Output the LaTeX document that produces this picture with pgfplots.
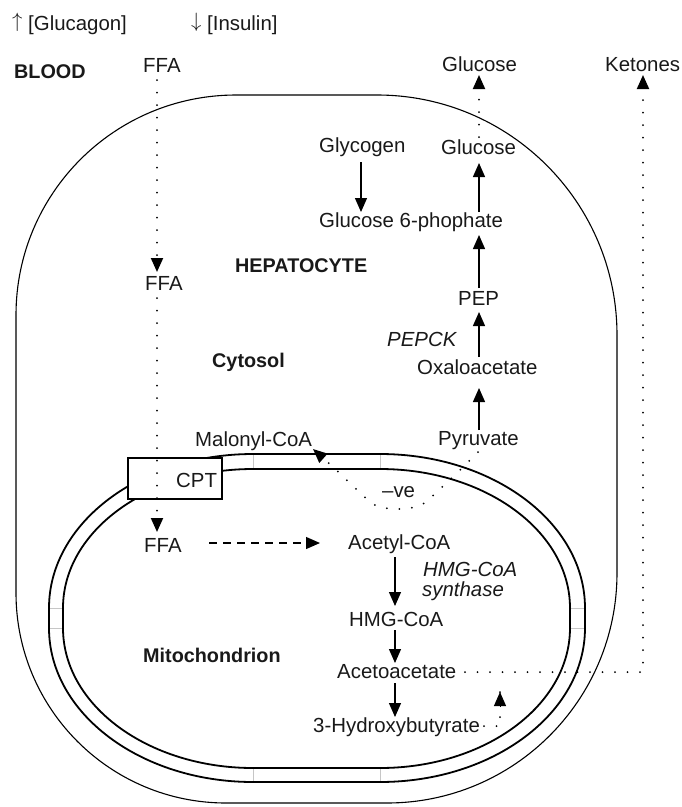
\documentclass[border=0pt]{standalone}
\usepackage{fontspec}
\setmainfont{Liberation Sans}
\usepackage{pgfplots}
\pgfplotsset{compat=1.18}
\usetikzlibrary{arrows.meta}
\newcommand{\R}{\fontsize{20.4}{24}\selectfont}
\newcommand{\B}{\fontsize{19.8}{24}\selectfont\bfseries}
\newcommand{\I}{\fontsize{20.4}{24}\selectfont\itshape}
\tikzset{
  tip/.style={-{Triangle[length=14pt,width=12pt]}},
  sol/.style={line width=1.3pt,tip},
  dots/.style={line width=2pt,line cap=round,dash pattern=on 0pt off 12.5pt,tip},
  lab/.style={anchor=base west,inner sep=0pt,text=black!90}}
\begin{document}
\begin{tikzpicture}
\begin{axis}[x=1pt,y=1pt,xmin=0,xmax=682,ymin=0,ymax=807,y dir=reverse,
  hide axis,clip=false]
\path (axis cs:0,0) rectangle (axis cs:682,807);
% cell outline
\draw[line width=1.1pt] (axis cs:16,315) arc[start angle=180,end angle=90,radius=220pt]
  -- (axis cs:377,95) arc[start angle=90,end angle=0,radius=240pt]
  -- (axis cs:617,573) arc[start angle=0,end angle=-90,radius=230pt]
  -- (axis cs:226,803) arc[start angle=270,end angle=180,radius=210pt] -- cycle;
% mitochondrion membranes
\draw[line width=1.8pt] (axis cs:49,608) arc[start angle=180,end angle=90,x radius=204pt,y radius=154pt]
  -- (axis cs:380,454) arc[start angle=90,end angle=0,x radius=205pt,y radius=154pt]
  -- (axis cs:585,628) arc[start angle=0,end angle=-90,x radius=205pt,y radius=154pt]
  -- (axis cs:253,782) arc[start angle=270,end angle=180,x radius=204pt,y radius=154pt] -- cycle;
\draw[line width=1.8pt] (axis cs:63,608) arc[start angle=180,end angle=90,x radius=190pt,y radius=139pt]
  -- (axis cs:380,469) arc[start angle=90,end angle=0,x radius=190pt,y radius=139pt]
  -- (axis cs:570,628) arc[start angle=0,end angle=-90,x radius=190pt,y radius=140pt]
  -- (axis cs:253,768) arc[start angle=270,end angle=180,x radius=190pt,y radius=140pt] -- cycle;
% light ticks across membrane band
\addplot[gray!45,line width=0.6pt] coordinates {(253,455) (253,468)};
\addplot[gray!45,line width=0.6pt] coordinates {(380,455) (380,468)};
\addplot[gray!45,line width=0.6pt] coordinates {(253,769) (253,781)};
\addplot[gray!45,line width=0.6pt] coordinates {(380,769) (380,781)};
\addplot[gray!45,line width=0.6pt] coordinates {(50,608) (62,608)};
\addplot[gray!45,line width=0.6pt] coordinates {(50,628) (62,628)};
\addplot[gray!45,line width=0.6pt] coordinates {(571,608) (584,608)};
\addplot[gray!45,line width=0.6pt] coordinates {(571,628) (584,628)};
% CPT box
\draw[line width=1.2pt,fill=white] (axis cs:128,458) rectangle (axis cs:222,499);
% solid arrows
\addplot[sol] coordinates {(361,162) (361,212)};
\addplot[sol] coordinates {(479,212) (479,163)};
\addplot[sol] coordinates {(479,288) (479,235)};
\addplot[sol] coordinates {(479,357) (479,312)};
\addplot[sol] coordinates {(479,430) (479,388)};
\addplot[sol] coordinates {(395,557) (395,606)};
\addplot[sol] coordinates {(395,630) (395,663)};
\addplot[sol] coordinates {(395,683) (395,717)};
% dashed arrow
\addplot[line width=1.2pt,dash pattern=on 8pt off 6pt,tip] coordinates {(209,543) (320,543)};
% dotted arrows
\addplot[dots] coordinates {(157,80) (157,272)};
\addplot[dots] coordinates {(157,298) (157,532)};
\addplot[dots] coordinates {(479,137) (479,75)};
\addplot[dots] coordinates {(465,672) (643,672) (643,75)};
\addplot[line width=2pt,line cap=round,dash pattern=on 0pt off 12.5pt] coordinates {(484,726) (500,726) (500,680)};
\addplot[line width=1pt,tip] coordinates {(500,707) (500,692)};
\addplot[dots,smooth] coordinates {(478,452) (460,470) (440,489) (421,505) (398,509) (375,505) (353,486) (333,467) (313,449)};
% labels
\node[lab,font=\R] at (axis cs:12,30) {\raisebox{3pt}{$\uparrow$} [Glucagon]};
\node[lab,font=\R] at (axis cs:191,30) {\raisebox{3pt}{$\downarrow$} [Insulin]};
\node[lab,font=\B] at (axis cs:14,78) {BLOOD};
\node[lab,font=\R] at (axis cs:143,72) {FFA};
\node[lab,font=\R] at (axis cs:442,71) {Glucose};
\node[lab,font=\R] at (axis cs:605,71) {Ketones};
\node[lab,font=\R] at (axis cs:319,152.5) {Glycogen};
\node[lab,font=\R] at (axis cs:441,154) {Glucose};
\node[lab,font=\R] at (axis cs:319,227) {Glucose 6-phophate};
\node[lab,font=\B] at (axis cs:235,272) {HEPATOCYTE};
\node[lab,font=\R] at (axis cs:145,290) {FFA};
\node[lab,font=\R] at (axis cs:458,305) {PEP};
\node[lab,font=\I] at (axis cs:387,346) {PEPCK};
\node[lab,font=\B] at (axis cs:212,367) {Cytosol};
\node[lab,font=\R] at (axis cs:417,374) {Oxaloacetate};
\node[lab,font=\R] at (axis cs:438,445.5) {Pyruvate};
\node[lab,font=\R] at (axis cs:195,446) {Malonyl-CoA};
\node[lab,font=\R] at (axis cs:176,487) {CPT};
\node[lab,font=\R] at (axis cs:382,497) {–ve};
\node[lab,font=\R] at (axis cs:144,552) {FFA};
\node[lab,font=\R] at (axis cs:348,549) {Acetyl-CoA};
\node[lab,font=\I] at (axis cs:423,576) {HMG-CoA};
\node[lab,font=\I] at (axis cs:422,596) {synthase};
\node[lab,font=\R] at (axis cs:349,626) {HMG-CoA};
\node[lab,font=\B] at (axis cs:143,662) {Mitochondrion};
\node[lab,font=\R] at (axis cs:337,678) {Acetoacetate};
\node[lab,font=\R] at (axis cs:313,732) {3-Hydroxybutyrate};
\end{axis}
\end{tikzpicture}
\end{document}
